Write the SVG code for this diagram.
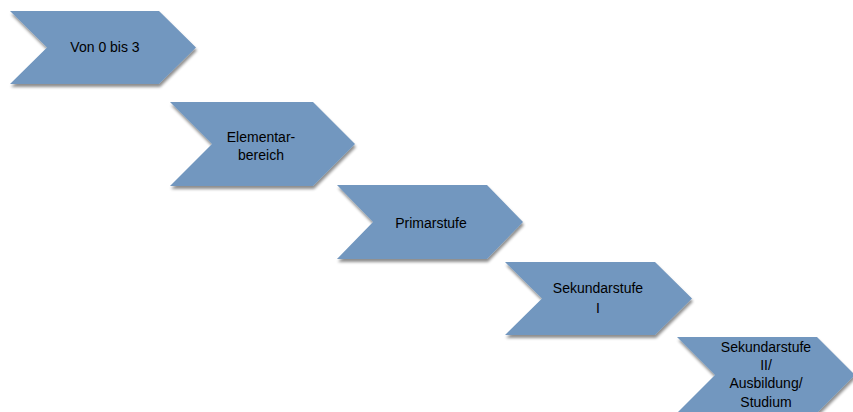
<svg xmlns="http://www.w3.org/2000/svg" width="853" height="412" viewBox="0 0 853 412">
  <style>
    .chev { fill: #7297BF; filter: url(#shadow); }
    .lbl { font-family: "Liberation Sans", Arial, sans-serif; font-size: 14px; fill: #000; text-anchor: middle; }
  </style>
  <defs>
    <filter id="shadow" x="-10%" y="-10%" width="125%" height="130%">
      <feGaussianBlur in="SourceAlpha" stdDeviation="1.5"/>
      <feOffset dx="1" dy="3" result="b"/>
      <feComponentTransfer><feFuncA type="linear" slope="0.45"/></feComponentTransfer>
      <feMerge><feMergeNode/><feMergeNode in="SourceGraphic"/></feMerge>
    </filter>
  </defs>
  <rect width="853" height="412" fill="#ffffff"/>
  <g id="connectors"></g>
  <g id="node1">
    <polygon class="chev" points="10,11 159,11 196,47.5 159,84 10,84 47,47.5"/>
    <text class="lbl" x="105" y="52">Von 0 bis 3</text>
  </g>
  <g id="node2">
    <polygon class="chev" points="170,102 313,102 355,144 313,186 170,186 212,144"/>
    <text class="lbl" x="261" y="142">Elementar-</text>
    <text class="lbl" x="261" y="160">bereich</text>
  </g>
  <g id="node3">
    <polygon class="chev" points="337,185 487,185 523,222 487,259 337,259 373,222"/>
    <text class="lbl" x="431" y="228">Primarstufe</text>
  </g>
  <g id="node4">
    <polygon class="chev" points="505,262 655,262 692,298.5 655,335 505,335 542,298.5"/>
    <text class="lbl" x="598" y="293">Sekundarstufe</text>
    <text class="lbl" x="598" y="313">I</text>
  </g>
  <g id="node5">
    <polygon class="chev" points="677,337 817,337 855,375 817,413 677,413 715,375"/>
    <text class="lbl" x="766" y="352">Sekundarstufe</text>
    <text class="lbl" x="766" y="370">II/</text>
    <text class="lbl" x="766" y="388">Ausbildung/</text>
    <text class="lbl" x="766" y="407">Studium</text>
  </g>
</svg>
